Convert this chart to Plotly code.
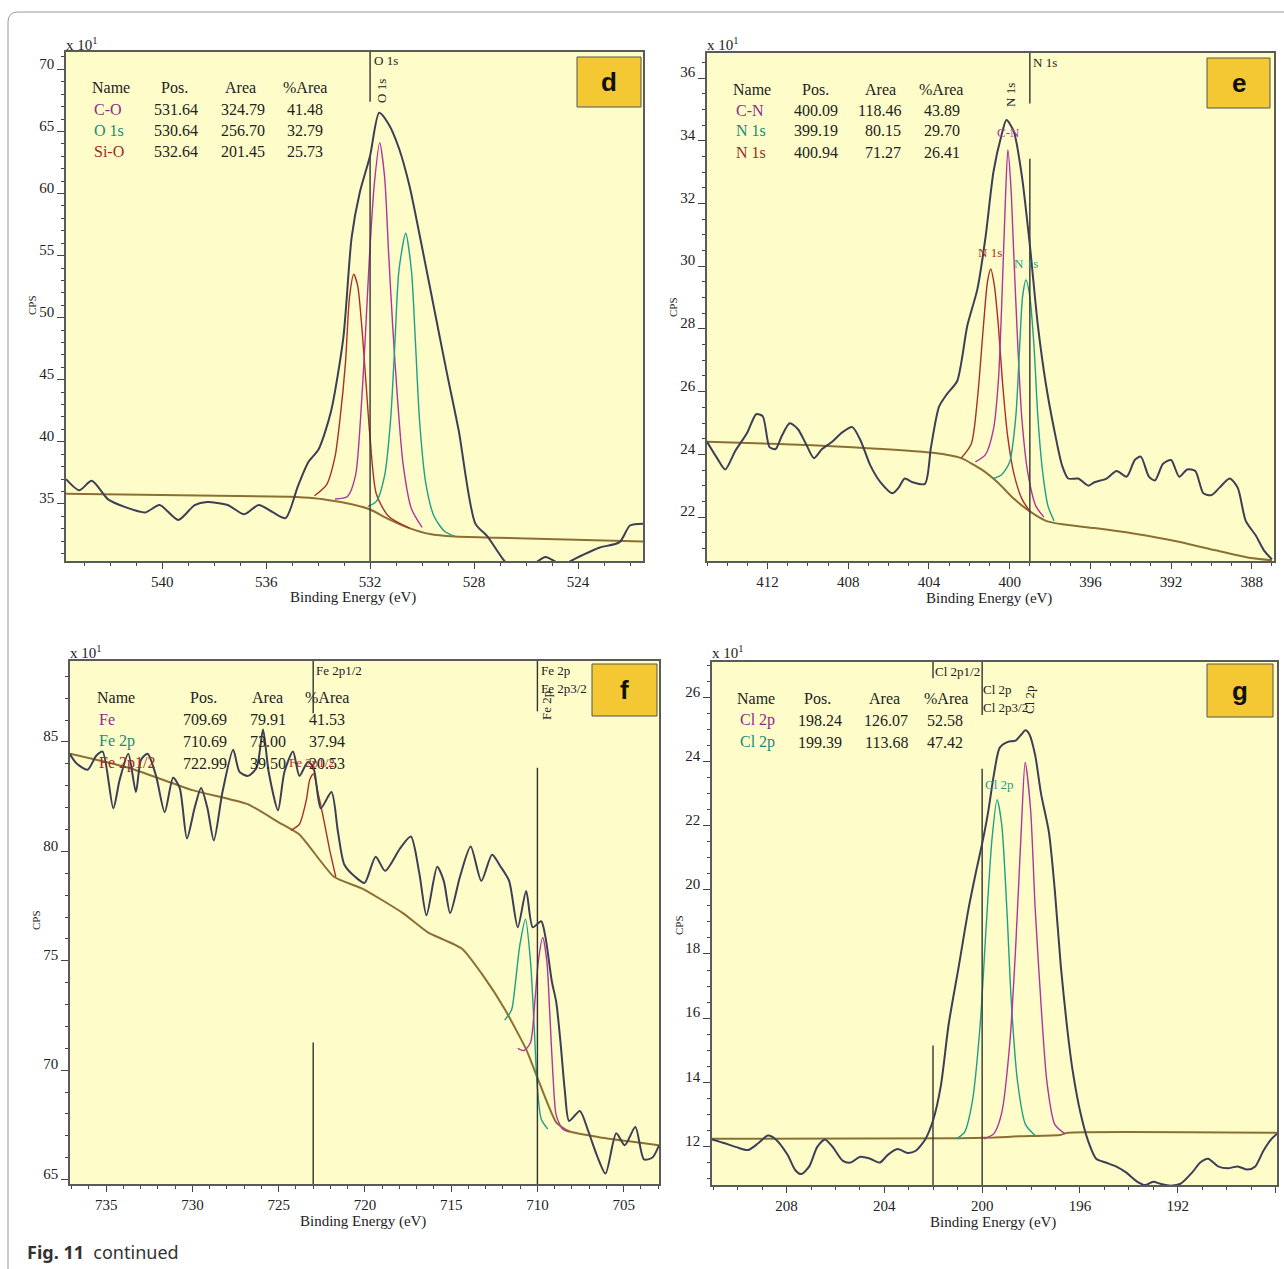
import plotly.graph_objects as go

W, H = 1284, 1269
FIG_H = 1280  # page is taller than the 1269 px picture; positions below are in picture pixels

# ---------------- DATA ----------------
# Panel d : O 1s
d_env_x = [543.7, 543.19, 542.71, 542.08, 541.44, 540.65, 540.1, 539.38, 538.75, 538.27, 537.48, 536.84, 536.29, 535.73, 535.25, 534.78, 534.38, 533.98, 533.51, 533.03, 532.71, 532.4, 532.0, 531.65, 531.29, 530.89, 530.49, 530.02, 529.54, 529.06, 528.59, 527.95, 527.48, 526.84, 526.37, 525.73, 525.25, 524.62, 523.98, 523.19, 522.4, 522.0, 521.5]
d_env_y = [37.0, 36.1, 36.86, 35.36, 34.76, 34.31, 34.91, 33.71, 34.91, 35.15, 34.91, 34.16, 34.91, 34.31, 33.86, 36.41, 38.35, 39.4, 42.4, 48.38, 56.47, 60.06, 63.05, 66.5, 65.6, 63.65, 60.66, 55.87, 50.78, 45.69, 40.9, 33.41, 32.37, 30.42, 29.52, 30.12, 30.72, 30.12, 30.72, 31.47, 31.92, 33.26, 33.41]
d_bg_x = [543.7, 535.1, 534.14, 533.51, 532.71, 532.0, 531.29, 530.49, 529.7, 528.75, 527.16, 521.5]
d_bg_y = [35.81, 35.57, 35.45, 35.27, 34.97, 34.55, 33.77, 33.05, 32.57, 32.37, 32.28, 31.98]
d_sio_x = [534.14, 533.67, 533.35, 533.16, 532.95, 532.79, 532.63, 532.48, 532.32, 532.16, 532.0, 531.76, 531.29, 530.49]
d_sio_y = [35.66, 36.56, 38.8, 41.8, 46.3, 51.7, 53.5, 52.6, 49.3, 44.8, 40.3, 35.8, 34.0, 33.05]
d_co_x = [533.35, 532.87, 532.56, 532.37, 532.2, 532.03, 531.84, 531.63, 531.44, 531.29, 531.13, 530.94, 530.73, 530.41, 530.0]
d_co_y = [35.4, 35.6, 37.3, 41.8, 47.8, 54.7, 60.7, 64.1, 61.3, 55.3, 49.3, 43.3, 38.2, 34.6, 33.1]
d_o1s_x = [532.08, 531.76, 531.44, 531.21, 531.05, 530.89, 530.63, 530.41, 530.25, 530.1, 529.86, 529.54, 529.14, 528.75]
d_o1s_y = [34.8, 35.2, 37.3, 41.8, 47.8, 53.8, 56.8, 53.8, 47.8, 41.8, 36.7, 34.0, 32.8, 32.4]
d_mark_x = [532.0]
d_mark_upper_end = [67.4]
d_mark_lower_start = [63.0]
d_names = ["C-O", "O 1s", "Si-O"]
d_pos = [531.64, 530.64, 532.64]
d_area = [324.79, 256.70, 201.45]
d_pct = [41.48, 32.79, 25.73]

# Panel e : N 1s
e_env_x = [415.0, 414.5, 414.1, 413.6, 413.0, 412.56, 412.24, 411.9, 411.6, 411.3, 410.9, 410.5, 410.1, 409.7, 409.3, 408.8, 408.3, 407.8, 407.4, 406.9, 406.4, 405.8, 405.5, 405.2, 404.8, 404.2, 403.9, 403.5, 403.1, 402.6, 402.1, 401.6, 401.2, 400.8, 400.4, 400.16, 399.8, 399.4, 399.0, 398.6, 398.2, 397.8, 397.4, 397.1, 396.6, 396.1, 395.8, 395.2, 394.7, 394.2, 393.8, 393.5, 393.1, 392.8, 392.4, 392.0, 391.6, 391.2, 390.8, 390.4, 390.0, 389.6, 389.1, 388.7, 388.3, 387.8, 387.4, 387.0]
e_env_y = [24.4, 23.88, 23.52, 24.11, 24.7, 25.28, 25.22, 24.23, 24.17, 24.58, 24.99, 24.81, 24.34, 23.88, 24.17, 24.4, 24.7, 24.87, 24.46, 23.64, 23.11, 22.76, 22.94, 23.23, 23.11, 23.06, 24.23, 25.52, 25.93, 26.34, 28.1, 29.27, 30.91, 33.02, 34.19, 34.66, 34.31, 32.9, 30.67, 28.1, 26.22, 24.81, 23.64, 23.23, 23.23, 23.0, 23.11, 23.23, 23.47, 23.29, 23.82, 23.93, 23.29, 23.17, 23.7, 23.82, 23.29, 23.52, 23.47, 22.76, 22.7, 22.94, 23.23, 22.94, 21.88, 21.41, 20.94, 20.65]
e_bg_x = [415.0, 411.8, 407.8, 403.8, 402.4, 401.4, 400.6, 399.8, 399.0, 398.2, 397.4, 395.8, 393.8, 391.8, 389.8, 388.2, 387.0]
e_bg_y = [24.4, 24.34, 24.23, 24.05, 23.88, 23.52, 23.11, 22.59, 22.18, 21.88, 21.77, 21.65, 21.47, 21.24, 20.94, 20.71, 20.62]
e_red_x = [402.4, 401.9, 401.6, 401.3, 401.1, 400.94, 400.76, 400.56, 400.36, 400.1, 399.8, 399.4, 399.0]
e_red_y = [23.88, 24.34, 25.75, 28.1, 29.5, 29.91, 29.39, 28.1, 26.34, 24.58, 23.41, 22.59, 22.18]
e_cn_x = [401.7, 401.2, 400.8, 400.56, 400.4, 400.24, 400.09, 399.94, 399.8, 399.6, 399.4, 399.1, 398.7, 398.3]
e_cn_y = [23.76, 23.99, 24.81, 26.34, 28.68, 31.61, 33.72, 32.55, 30.44, 27.51, 25.17, 23.41, 22.35, 22.0]
e_teal_x = [400.8, 400.4, 400.0, 399.7, 399.5, 399.36, 399.19, 399.0, 398.8, 398.6, 398.36, 398.1, 397.8]
e_teal_y = [23.23, 23.35, 23.76, 25.17, 27.51, 29.03, 29.56, 29.03, 27.51, 25.17, 23.41, 22.35, 21.88]
e_mark_x = [399.0]
e_mark_upper_end = [35.19]
e_mark_lower_start = [33.43]
e_names = ["C-N", "N 1s", "N 1s"]
e_pos = [400.09, 399.19, 400.94]
e_area = [118.46, 80.15, 71.27]
e_pct = [43.89, 29.70, 26.41]

# Panel f : Fe 2p
f_env_x = [737.12, 736.7, 736.08, 735.58, 735.21, 734.59, 734.22, 733.72, 733.28, 732.98, 732.6, 732.11, 731.61, 731.12, 730.74, 730.32, 729.88, 729.5, 729.13, 728.76, 728.26, 727.64, 727.27, 726.77, 726.28, 725.91, 725.58, 725.04, 724.67, 724.17, 723.8, 723.3, 722.98, 722.56, 721.94, 721.56, 721.19, 720.57, 720.02, 719.38, 718.83, 717.97, 717.34, 716.85, 716.43, 715.81, 715.43, 715.06, 714.49, 713.87, 713.25, 712.63, 712.13, 711.64, 711.14, 710.65, 710.27, 709.78, 709.53, 709.16, 708.91, 708.66, 708.41, 708.16, 707.54, 707.05, 706.55, 706.05, 705.43, 704.94, 704.32, 703.82, 703.33, 702.95]
f_env_y = [84.46, 84.0, 83.73, 84.37, 84.56, 81.97, 83.27, 84.46, 82.71, 84.19, 84.46, 83.45, 81.79, 83.36, 82.9, 80.59, 81.97, 82.9, 81.97, 80.5, 82.71, 84.65, 83.63, 83.45, 83.82, 85.57, 83.63, 81.88, 83.63, 84.56, 83.45, 84.1, 83.82, 81.97, 82.71, 80.87, 79.39, 78.84, 78.56, 79.76, 79.11, 80.13, 80.68, 79.02, 77.08, 79.3, 78.65, 77.18, 78.84, 80.22, 78.65, 79.85, 79.3, 78.65, 76.53, 78.19, 76.53, 76.81, 76.07, 74.04, 73.12, 71.27, 69.06, 67.68, 68.14, 67.21, 66.11, 65.28, 67.12, 66.57, 67.4, 65.92, 66.01, 66.57]
f_bg_x = [737.1, 733.7, 730.0, 726.8, 725.0, 723.8, 721.8, 720.1, 717.8, 716.35, 714.37, 713.13, 711.9, 710.65, 709.9, 708.9, 708.16, 706.43, 704.69, 702.95]
f_bg_y = [84.46, 83.82, 82.8, 82.16, 81.33, 80.77, 78.84, 78.28, 77.18, 76.3, 75.55, 74.3, 72.8, 70.95, 69.45, 67.6, 67.21, 66.94, 66.75, 66.57]
f_red_x = [724.3, 723.8, 723.4, 723.2, 722.99, 722.68, 722.38, 722.06, 721.69]
f_red_y = [80.96, 81.24, 82.34, 83.27, 83.54, 82.53, 81.42, 80.13, 78.84]
f_teal_x = [711.9, 711.5, 711.27, 711.02, 710.69, 710.4, 710.2, 710.02, 709.78, 709.4]
f_teal_y = [72.29, 72.75, 74.04, 75.7, 76.9, 74.96, 72.2, 69.43, 67.77, 67.31]
f_mag_x = [711.14, 710.77, 710.4, 710.15, 709.95, 709.69, 709.45, 709.28, 709.1, 708.91, 708.54, 708.16]
f_mag_y = [71.0, 70.9, 71.27, 73.12, 74.96, 76.07, 74.96, 72.56, 69.8, 67.95, 67.31, 67.18]
f_mark_x = [723.0, 710.0]
f_mark_upper_end = [86.31, 86.4]
f_mark_lower_start = [71.27, 83.82]
f_names = ["Fe", "Fe 2p", "Fe 2p1/2"]
f_pos = [709.69, 710.69, 722.99]
f_area = [79.91, 73.00, 39.50]
f_pct = [41.53, 37.94, 20.53]

# Panel g : Cl 2p
g_env_x = [211.05, 210.53, 210.05, 209.57, 209.16, 208.76, 208.44, 207.96, 207.64, 207.4, 207.07, 206.75, 206.43, 206.11, 205.71, 205.39, 204.98, 204.58, 204.18, 203.86, 203.46, 203.05, 202.73, 202.33, 202.01, 201.69, 201.37, 200.96, 200.56, 200.24, 200.0, 199.76, 199.52, 199.28, 198.95, 198.63, 198.39, 198.23, 198.07, 197.83, 197.59, 197.27, 197.03, 196.78, 196.54, 196.3, 195.98, 195.66, 195.34, 194.94, 194.53, 194.13, 193.65, 193.33, 193.01, 192.68, 192.28, 191.88, 191.4, 191.08, 190.76, 190.35, 189.95, 189.55, 189.15, 188.83, 188.5, 188.18, 187.94]
g_env_y = [12.22, 12.1, 11.98, 11.89, 12.1, 12.34, 12.22, 11.74, 11.26, 11.14, 11.38, 11.98, 12.22, 11.98, 11.56, 11.5, 11.68, 11.62, 11.5, 11.74, 11.92, 11.8, 11.86, 12.22, 12.81, 13.89, 15.81, 17.6, 19.4, 20.6, 21.44, 22.4, 23.59, 24.43, 24.61, 24.65, 24.85, 24.97, 24.85, 24.19, 22.99, 21.8, 20.0, 17.6, 15.81, 14.37, 13.05, 12.16, 11.62, 11.5, 11.38, 11.2, 10.9, 10.8, 10.9, 10.83, 10.78, 10.84, 11.2, 11.5, 11.62, 11.38, 11.32, 11.38, 11.28, 11.38, 11.86, 12.22, 12.4]
g_bg_x = [211.05, 201.0, 199.5, 198.5, 196.8, 196.5, 187.94]
g_bg_y = [12.24, 12.26, 12.28, 12.32, 12.36, 12.43, 12.43]
g_teal_x = [201.05, 200.72, 200.4, 200.08, 199.84, 199.6, 199.39, 199.2, 198.99, 198.8, 198.55, 198.23, 197.83]
g_teal_y = [12.24, 12.45, 13.41, 15.81, 18.8, 21.56, 22.81, 22.04, 19.4, 16.41, 14.01, 12.69, 12.34]
g_mag_x = [199.92, 199.52, 199.2, 198.87, 198.63, 198.39, 198.24, 198.02, 197.83, 197.59, 197.35, 197.03, 196.62]
g_mag_y = [12.24, 12.4, 13.05, 15.21, 18.2, 22.04, 23.98, 22.51, 19.4, 16.41, 14.01, 12.69, 12.4]
g_mark_x = [202.01, 200.0]
g_mark_upper_end = [26.59, 25.45]
g_mark_lower_start = [15.15, 23.77]
g_names = ["Cl 2p", "Cl 2p"]
g_pos = [198.24, 199.39]
g_area = [126.07, 113.68]
g_pct = [52.58, 47.42]

# ---------------- STYLE ----------------
SERIF = "Liberation Serif, Times New Roman, serif"
C_ENV = "#3c3f55"
C_BG = "#8c6f32"
C_MAG = "#b0359c"
C_TEAL = "#1f9e88"
C_RED = "#a9302a"
C_MARK = "#333333"
TXT_MAG = "#8e2a8a"
TXT_TEAL = "#178c7a"
TXT_RED = "#a02a24"
PLOT_BG = "#fefdc9"

def px(x):
    return x / W

def py(y):
    return 1 - y / FIG_H

panels = {
    "d": dict(ax="", dom_x=(66, 643), dom_y=(52, 561), xr=(543.7, 521.5), yr=(30.4, 71.4),
              xt0=520, xdt=4, yt0=35, ydt=5, ymin=1),
    "e": dict(ax="2", dom_x=(707, 1274), dom_y=(53, 561), xr=(415.0, 386.9), yr=(20.6, 36.8),
              xt0=388, xdt=4, yt0=22, ydt=2, ymin=0.5),
    "f": dict(ax="3", dom_x=(70, 659), dom_y=(661, 1184), xr=(737.1, 702.95), yr=(64.8, 88.7),
              xt0=705, xdt=5, yt0=65, ydt=5, ymin=1),
    "g": dict(ax="4", dom_x=(712, 1277), dom_y=(662, 1185), xr=(211.05, 187.94), yr=(10.8, 27.1),
              xt0=192, xdt=4, yt0=12, ydt=2, ymin=0.5),
}

fig = go.Figure()

def add_line(key, xs, ys, color, width, smooth=0.7):
    a = panels[key]["ax"]
    fig.add_trace(go.Scatter(x=xs, y=ys, mode="lines", xaxis="x" + a, yaxis="y" + a,
                             line=dict(color=color, width=width, shape="spline", smoothing=smooth),
                             hoverinfo="skip", showlegend=False))

def add_markers(key, mx, upper_end, lower_start):
    p = panels[key]
    a = p["ax"]
    y_lo, y_hi = p["yr"]
    for xm, ue, ls in zip(mx, upper_end, lower_start):
        fig.add_trace(go.Scatter(x=[xm, xm], y=[y_hi, ue], mode="lines", xaxis="x" + a, yaxis="y" + a,
                                 line=dict(color=C_MARK, width=1.4), hoverinfo="skip", showlegend=False))
        fig.add_trace(go.Scatter(x=[xm, xm], y=[ls, y_lo], mode="lines", xaxis="x" + a, yaxis="y" + a,
                                 line=dict(color=C_MARK, width=1.4), hoverinfo="skip", showlegend=False))

# panel d
add_line("d", d_bg_x, d_bg_y, C_BG, 2.0, 0.5)
add_line("d", d_sio_x, d_sio_y, C_RED, 1.4)
add_line("d", d_co_x, d_co_y, C_MAG, 1.4)
add_line("d", d_o1s_x, d_o1s_y, C_TEAL, 1.4)
add_markers("d", d_mark_x, d_mark_upper_end, d_mark_lower_start)
add_line("d", d_env_x, d_env_y, C_ENV, 2.0)
# panel e
add_line("e", e_bg_x, e_bg_y, C_BG, 2.0, 0.5)
add_line("e", e_red_x, e_red_y, C_RED, 1.4)
add_line("e", e_cn_x, e_cn_y, C_MAG, 1.4)
add_line("e", e_teal_x, e_teal_y, C_TEAL, 1.4)
add_markers("e", e_mark_x, e_mark_upper_end, e_mark_lower_start)
add_line("e", e_env_x, e_env_y, C_ENV, 2.0)
# panel f
add_line("f", f_bg_x, f_bg_y, C_BG, 2.0, 0.5)
add_line("f", f_red_x, f_red_y, C_RED, 1.4)
add_line("f", f_teal_x, f_teal_y, C_TEAL, 1.4)
add_line("f", f_mag_x, f_mag_y, C_MAG, 1.4)
add_markers("f", f_mark_x, f_mark_upper_end, f_mark_lower_start)
add_line("f", f_env_x, f_env_y, C_ENV, 2.0)
# panel g
add_line("g", g_bg_x, g_bg_y, C_BG, 2.0, 0.5)
add_line("g", g_teal_x, g_teal_y, C_TEAL, 1.4)
add_line("g", g_mag_x, g_mag_y, C_MAG, 1.4)
add_markers("g", g_mark_x, g_mark_upper_end, g_mark_lower_start)
add_line("g", g_env_x, g_env_y, C_ENV, 2.0)

# ---------------- AXES ----------------
layout_axes = {}
for key, p in panels.items():
    a = p["ax"]
    xname = "xaxis" + a
    yname = "yaxis" + a
    layout_axes[xname] = dict(
        domain=[px(p["dom_x"][0]), px(p["dom_x"][1])], range=list(p["xr"]),
        anchor="y" + a, tick0=p["xt0"], dtick=p["xdt"], ticks="outside", ticklen=6,
        tickcolor="#444", tickwidth=1.2, showgrid=False, zeroline=False,
        showline=True, mirror=True, linecolor="#5a5a5a", linewidth=1.6,
        tickfont=dict(family=SERIF, size=15, color="#222"),
        minor=dict(dtick=1, tick0=p["xt0"], ticks="outside", ticklen=3, tickcolor="#444", showgrid=False),
        fixedrange=True,
    )
    layout_axes[yname] = dict(
        domain=[py(p["dom_y"][1]), py(p["dom_y"][0])], range=list(p["yr"]),
        anchor="x" + a, tick0=p["yt0"], dtick=p["ydt"], ticks="outside", ticklen=7,
        tickcolor="#444", tickwidth=1.2, showgrid=False, zeroline=False,
        showline=True, mirror=True, linecolor="#5a5a5a", linewidth=1.6,
        tickfont=dict(family=SERIF, size=15, color="#222"), ticklabelshift=-6,
        minor=dict(dtick=p["ymin"], tick0=p["yt0"], ticks="outside", ticklen=3, tickcolor="#444", showgrid=False),
        fixedrange=True,
    )

# ---------------- ANNOTATIONS ----------------
ann = []

def text(x, y, s, size=16, color="#222", xanchor="center", family=SERIF, angle=0):
    ann.append(dict(x=px(x), y=py(y), xref="paper", yref="paper", text=s, showarrow=False,
                    xanchor=xanchor, yanchor="middle", textangle=angle,
                    font=dict(family=family, size=size, color=color)))

def table(names, pos, area, pct, colors, hdr_y, row_ys, name_x, cols, area_anchor="center"):
    hx = cols["hdr"]
    text(hx[0], hdr_y, "Name")
    text(hx[1], hdr_y, "Pos.")
    text(hx[2], hdr_y, "Area")
    text(hx[3], hdr_y, "%Area")
    for n, p_, a_, c_, col, ry in zip(names, pos, area, pct, colors, row_ys):
        text(name_x, ry, n, color=col, xanchor="left")
        text(cols["pos"], ry, f"{p_:.2f}")
        text(cols["area"], ry, f"{a_:.2f}", xanchor=area_anchor)
        text(cols["pct"], ry, f"{c_:.2f}")

row_colors3 = [TXT_MAG, TXT_TEAL, TXT_RED]

table(d_names, d_pos, d_area, d_pct, row_colors3, 88, [109, 130, 151.5], 92,
      dict(hdr=[111, 175, 240, 305], pos=176, area=243, pct=305))
table(e_names, e_pos, e_area, e_pct, row_colors3, 89, [110, 131, 152.5], 734,
      dict(hdr=[752, 815, 880, 941], pos=816, area=903, pct=942), area_anchor="right")
table(f_names, f_pos, f_area, f_pct, row_colors3, 697, [719, 741, 763], 97,
      dict(hdr=[116, 203, 267, 327], pos=205, area=268, pct=327))
table(g_names, g_pos, g_area, g_pct, [TXT_MAG, TXT_TEAL], 698, [720, 742], 738,
      dict(hdr=[756, 817, 884, 946], pos=820, area=886, pct=945))

for (x0, y0) in [(64, 44), (705, 44), (68, 652), (710, 652)]:
    text(x0, y0, "x 10<sup>1</sup>", size=15, xanchor="left")

for (cx, cy) in [(353, 597), (989, 598), (363, 1221), (993, 1222)]:
    text(cx, cy, "Binding Energy (eV)", size=15)
for (cx, cy) in [(32, 305), (673, 307), (36, 920), (679, 925)]:
    text(cx, cy, "CPS", size=11, angle=-90)

text(372, 61, "O 1s", size=13, xanchor="left")
text(382, 91, "O 1s", size=13, angle=-90)
text(1031, 63, "N 1s", size=13, xanchor="left")
text(1010, 95, "N 1s", size=13, angle=-90)
text(1008, 133, "C-N", size=13, color=C_MAG)
text(990, 252, "N 1s", size=13, color=C_RED)
text(1026, 263, "N 1s", size=13, color=C_TEAL)
text(314, 670, "Fe 2p1/2", size=13, xanchor="left")
text(539, 670, "Fe 2p", size=13, xanchor="left")
text(539, 688, "Fe 2p3/2", size=13, xanchor="left")
text(546, 706, "Fe 2p", size=13, angle=-90)
text(312, 762, "Fe 2p1/2", size=13, color=C_RED)
text(933, 671, "Cl 2p1/2", size=13, xanchor="left")
text(981, 689, "Cl 2p", size=13, xanchor="left")
text(981, 707, "Cl 2p3/2", size=13, xanchor="left")
text(1029, 700, "Cl 2p", size=13, angle=-90)
text(999, 784, "Cl 2p", size=13, color=C_TEAL)

shapes = []
boxes = [("d", 577, 57, 641, 107), ("e", 1207, 58, 1270, 108), ("f", 592, 664, 657, 716), ("g", 1207, 664, 1273, 717)]
for lab, x0, y0, x1, y1 in boxes:
    shapes.append(dict(type="rect", xref="paper", yref="paper", x0=px(x0), x1=px(x1), y0=py(y1), y1=py(y0),
                       fillcolor="#f4c832", line=dict(color="#555", width=1)))
    text((x0 + x1) / 2, (y0 + y1) / 2, "<b>" + lab + "</b>", size=26, family="Liberation Sans, Arial, sans-serif",
         color="#111")

text(25, 1252, "<b>Fig. 11</b>  continued", size=18, xanchor="left", family="Noto Sans, Open Sans, sans-serif",
     color="#333")

r = 10
bx, by = 8, 12
path = (f"M {px(bx)},{py(FIG_H)} L {px(bx)},{py(by + r)} "
        f"Q {px(bx)},{py(by)} {px(bx + r)},{py(by)} L {px(W + 5)},{py(by)}")
shapes.append(dict(type="path", xref="paper", yref="paper", path=path, line=dict(color="#9a9a9a", width=1)))

fig.update_layout(
    width=W, height=FIG_H, margin=dict(l=0, r=0, t=0, b=0),
    paper_bgcolor="white", plot_bgcolor=PLOT_BG,
    showlegend=False, annotations=ann, shapes=shapes,
    **layout_axes,
)

fig.write_html("out.html")
